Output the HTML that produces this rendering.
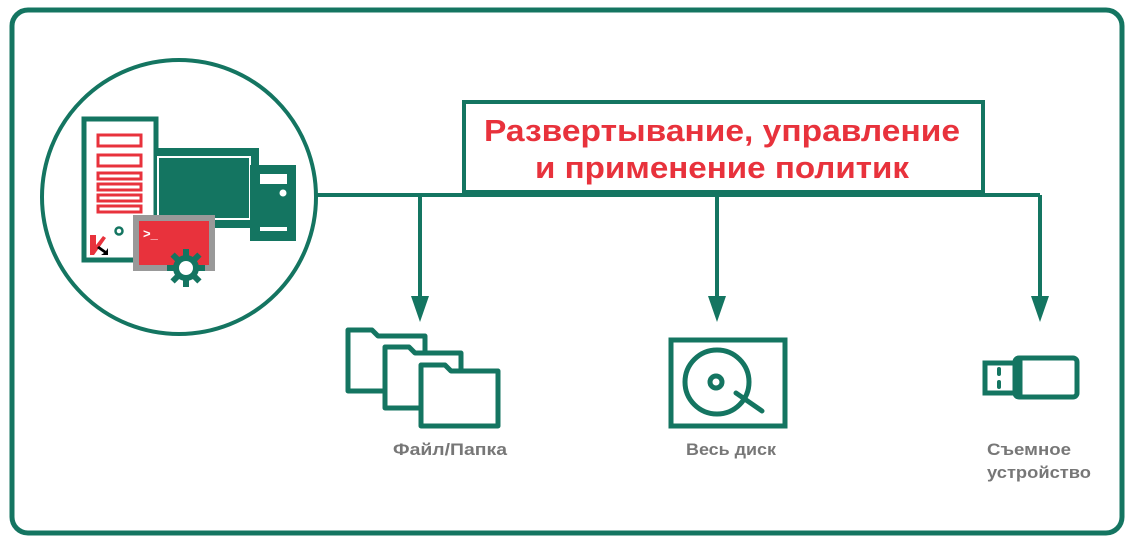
<!DOCTYPE html>
<html><head><meta charset="utf-8"><style>
html,body{margin:0;padding:0;background:#fff;width:1133px;height:543px;overflow:hidden}
svg text{font-family:"Liberation Sans",sans-serif;font-weight:bold}
</style></head><body>
<svg width="1133" height="543" viewBox="0 0 1133 543" xmlns="http://www.w3.org/2000/svg">
<g fill="none" stroke="#147561" stroke-width="5">
<rect x="12" y="10" width="1110" height="523" rx="16"/>
</g>
<g stroke="#147561" stroke-width="4" fill="none">
<circle cx="179" cy="197" r="137" fill="#fff"/>
<line x1="316" y1="195" x2="1040" y2="195"/>
<line x1="420" y1="195" x2="420" y2="305"/>
<line x1="717" y1="195" x2="717" y2="305"/>
<line x1="1040" y1="195" x2="1040" y2="305"/>
<rect x="464" y="102" width="519" height="90" fill="#fff"/>
</g>
<g fill="#147561">
<path d="M411 296 L429 296 L420 322 Z"/>
<path d="M708 296 L726 296 L717 322 Z"/>
<path d="M1031 296 L1049 296 L1040 322 Z"/>
</g>
<text x="722" y="141" font-size="31" fill="#e8323c" text-anchor="middle" textLength="476" lengthAdjust="spacingAndGlyphs">Развертывание, управление</text>
<text x="722" y="178" font-size="31" fill="#e8323c" text-anchor="middle" textLength="374" lengthAdjust="spacingAndGlyphs">и применение политик</text>
<!-- computer -->
<rect x="84" y="119" width="72" height="141" fill="#fff" stroke="#147561" stroke-width="5"/>
<g fill="none" stroke="#e8323c" stroke-width="3">
<rect x="98" y="135" width="43" height="11"/>
<rect x="98" y="155" width="43" height="11"/>
<rect x="98" y="173" width="43" height="6"/>
<rect x="98" y="184" width="43" height="6"/>
<rect x="98" y="195" width="43" height="6"/>
<rect x="98" y="206" width="43" height="6"/>
</g>
<circle cx="119" cy="231" r="3.5" fill="none" stroke="#147561" stroke-width="2.5"/>
<path d="M90 235 L96 235 L96 245 L103 236 L106 238 L94 255 L90 255 Z" fill="#e8323c"/>
<path d="M99 246 L106 251 L108 248 L108 255 L101 255 L104 253 L97 248 Z" fill="#000"/>
<rect x="156" y="148" width="103" height="80" fill="#147561"/>
<rect x="158" y="157" width="92" height="62" fill="#147561" stroke="#fff" stroke-width="2"/>
<rect x="250" y="165" width="46" height="76" fill="#147561"/>
<rect x="260" y="174" width="27" height="10" fill="#fff"/>
<circle cx="283" cy="193" r="3.5" fill="#fff"/>
<rect x="260" y="227" width="27" height="4" fill="#fff"/>
<rect x="133" y="215" width="82" height="56" fill="#999"/>
<rect x="139" y="221" width="70" height="44" fill="#e8323c"/>
<text x="143" y="238" font-size="13" fill="#fff">&gt;_</text>
<g transform="translate(186,268)" fill="#147561">
<circle r="13"/>
<g><rect x="-3" y="-19" width="6" height="38"/><rect x="-3" y="-19" width="6" height="38" transform="rotate(45)"/><rect x="-3" y="-19" width="6" height="38" transform="rotate(90)"/><rect x="-3" y="-19" width="6" height="38" transform="rotate(135)"/></g>
<circle r="7" fill="#fff"/>
</g>
<!-- folders -->
<g stroke="#147561" stroke-width="5" fill="#fff" stroke-linejoin="round">
<path d="M348 330 L372 330 L378 336 L425 336 L425 391 L348 391 Z"/>
<path d="M385 347 L409 347 L415 353 L461 353 L461 408 L385 408 Z"/>
<path d="M421 365 L445 365 L451 371 L498 371 L498 426 L421 426 Z"/>
</g>
<!-- disk -->
<g stroke="#147561" stroke-width="5" fill="none" stroke-linecap="round">
<rect x="671" y="340" width="114" height="86"/>
<circle cx="717" cy="382" r="32"/>
<circle cx="716" cy="382" r="6"/>
<line x1="736" y1="393" x2="762" y2="411"/>
</g>
<!-- usb -->
<g stroke="#147561" stroke-width="5" fill="none">
<rect x="1015" y="358" width="62" height="39" rx="4"/>
<rect x="985" y="363" width="30" height="30"/>
<line x1="1020" y1="360" x2="1020" y2="396"/>
</g>
<rect x="997" y="367" width="4" height="9" rx="2" fill="#147561"/>
<rect x="997" y="380" width="4" height="9" rx="2" fill="#147561"/>
<g font-size="17" fill="#777">
<text x="450" y="455" text-anchor="middle" textLength="114" lengthAdjust="spacingAndGlyphs">Файл/Папка</text>
<text x="731" y="455" text-anchor="middle" textLength="90" lengthAdjust="spacingAndGlyphs">Весь диск</text>
<text x="987" y="455" textLength="84" lengthAdjust="spacingAndGlyphs">Съемное</text>
<text x="987" y="478" textLength="104" lengthAdjust="spacingAndGlyphs">устройство</text>
</g>
</svg>
</body></html>
